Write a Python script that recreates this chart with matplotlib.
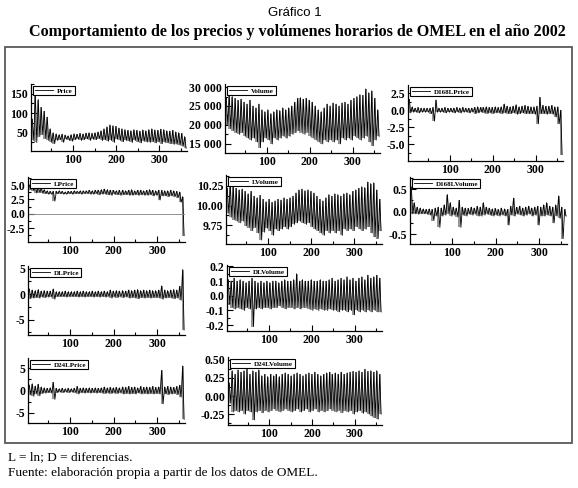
import numpy as np
import matplotlib
matplotlib.use('Agg')
import matplotlib.pyplot as plt
from matplotlib.ticker import AutoMinorLocator, FuncFormatter, MultipleLocator
from matplotlib.patches import Rectangle

plt.rcParams['axes.unicode_minus'] = False

# weekly highs / lows (x = day of 2002)
price_hi = [85, 155, 135, 115, 105, 90, 60, 50, 47, 45, 46, 44, 42, 45, 47, 46, 48, 47, 49, 50, 48, 50, 52, 55,
            60, 65, 70, 68, 66, 62, 60, 58, 56, 55, 58, 56, 54, 57, 55, 58, 60, 57, 56, 59, 58, 55, 54, 56, 52, 50, 48, 40]
price_lo = [30, 25, 40, 45, 35, 30, 25, 22, 30, 32, 25, 33, 30, 28, 32, 33, 30, 32, 34, 30, 33, 32, 35, 30,
            32, 28, 30, 25, 33, 30, 27, 30, 28, 25, 30, 27, 24, 28, 26, 25, 27, 24, 26, 22, 25, 24, 22, 20, 20, 18, 15, 10]

volume_hi = [27000, 28000, 27500, 27000, 26500, 26800, 26000, 25500, 26500, 25000, 24500, 25500, 24000, 23500,
             24000, 23000, 23500, 24000, 23800, 24500, 24000, 24500, 25000, 26000, 27000, 27200, 26800, 27000,
             26500, 26000, 25000, 24000, 23500, 24500, 25500, 25000, 25800, 25500, 25000, 25800, 26000, 25500,
             26500, 27000, 27500, 28000, 27800, 29500, 28500, 29000, 27000, 24000]
volume_lo = [20000, 19000, 18500, 18000, 17500, 18000, 17000, 16500, 16000, 16500, 15500, 14000, 15500, 16500,
             16000, 15000, 16500, 16000, 16500, 17000, 16500, 17000, 17500, 18000, 18500, 18000, 17500, 18000,
             17000, 16500, 16000, 15500, 15000, 16000, 15500, 16000, 15500, 16000, 15000, 16500, 16000, 16500,
             16000, 17000, 16500, 16000, 16500, 17000, 15500, 14500, 16000, 17000]

d168lprice_hi = [1.6, 0.5, 0.3, 0.4, 0.3, 0.3, 0.3, 0.3, 0.4, 1.5, 0.3, 0.3, 0.4, 0.3, 0.3, 0.3, 0.4, 0.3, 0.4, 0.3,
                 0.3, 0.3, 0.4, 0.5, 0.4, 0.4, 0.5, 0.4, 0.4, 0.5, 0.4, 0.5, 0.9, 0.6, 0.5, 0.6, 0.8, 0.5, 0.6, 0.7,
                 0.6, 0.5, 0.5, 0.6, 1.9, 0.7, 0.6, 0.6, 0.7, 0.5, 0.5, 0.0]
d168lprice_lo = [-0.4, -0.3, -0.3, -0.4, -0.3, -0.3, -0.3, -0.5, -1.6, -0.3, -0.3, -0.3, -0.4, -0.3, -0.3, -0.4,
                 -0.3, -0.4, -0.3, -0.3, -0.4, -0.3, -0.5, -0.4, -0.3, -0.4, -0.5, -0.4, -0.5, -0.4, -0.4, -0.5,
                 -0.4, -0.5, -0.5, -0.4, -0.6, -0.5, -0.4, -0.5, -0.5, -0.5, -0.6, -2.0, -0.5, -0.5, -0.6, -0.5,
                 -0.6, -1.0, -2.0, -6.5]

lprice_hi = [5.0, 5.2, 4.9, 4.7, 4.5, 4.2, 4.0, 3.9, 3.9, 3.9, 4.0, 3.9, 3.8, 3.9, 3.9, 4.0, 3.9, 4.0, 4.0, 4.0,
             4.1, 4.0, 4.1, 4.1, 4.2, 4.3, 4.2, 4.1, 4.1, 4.0, 4.1, 4.1, 4.0, 4.1, 4.2, 4.0, 4.1, 4.1, 4.0, 4.1,
             4.2, 4.1, 4.0, 4.1, 4.1, 4.0, 4.0, 4.1, 4.0, 3.9, 3.8, 3.0]
lprice_lo = [4.2, 4.0, 3.6, 3.7, 3.6, 3.5, 3.4, 3.4, 2.2, 3.5, 3.5, 3.4, 3.4, 3.5, 3.4, 3.5, 3.5, 3.4, 3.5, 3.5,
             3.4, 3.4, 3.5, 3.3, 3.4, 3.4, 3.3, 3.2, 3.4, 3.3, 3.2, 3.3, 3.3, 3.2, 3.2, 3.3, 3.2, 3.3, 3.2, 3.2,
             3.3, 3.1, 3.2, 2.4, 3.1, 3.1, 3.0, 3.1, 3.0, 2.8, 2.0, -3.8]

lvolume_hi = [10.22, 10.28, 10.25, 10.22, 10.2, 10.21, 10.18, 10.15, 10.18, 10.12, 10.1, 10.13, 10.08, 10.05,
              10.08, 10.04, 10.06, 10.08, 10.07, 10.1, 10.08, 10.1, 10.12, 10.16, 10.2, 10.21, 10.19, 10.2, 10.18,
              10.16, 10.12, 10.08, 10.06, 10.1, 10.14, 10.12, 10.15, 10.14, 10.12, 10.15, 10.16, 10.14, 10.18,
              10.2, 10.22, 10.24, 10.23, 10.3, 10.28, 10.29, 10.2, 10.08]
lvolume_lo = [9.9, 9.85, 9.82, 9.8, 9.78, 9.8, 9.74, 9.72, 9.68, 9.72, 9.65, 9.56, 9.66, 9.71, 9.68, 9.62, 9.7,
              9.68, 9.7, 9.73, 9.7, 9.73, 9.76, 9.78, 9.8, 9.78, 9.76, 9.78, 9.73, 9.7, 9.68, 9.65, 9.62, 9.68,
              9.65, 9.68, 9.65, 9.68, 9.62, 9.7, 9.68, 9.7, 9.68, 9.73, 9.7, 9.68, 9.7, 9.73, 9.65, 9.6, 9.58, 9.68]

d168lvolume_hi = [0.55, 0.2, 0.1, 0.08, 0.06, 0.05, 0.06, 0.05, 0.08, 0.1, 0.08, 0.15, 0.38, 0.2, 0.1, 0.08,
                  0.25, 0.1, 0.08, 0.07, 0.1, 0.08, 0.12, 0.1, 0.2, 0.1, 0.08, 0.06, 0.07, 0.05, 0.08, 0.06, 0.05,
                  0.12, 0.3, 0.1, 0.12, 0.08, 0.1, 0.12, 0.08, 0.1, 0.12, 0.1, 0.15, 0.2, 0.12, 0.1, 0.15, 0.35,
                  0.1, 0.05]
d168lvolume_lo = [-0.05, -0.05, -0.06, -0.05, -0.05, -0.06, -0.08, -0.2, -0.1, -0.35, -0.1, -0.08, -0.05, -0.1,
                  -0.08, -0.12, -0.35, -0.08, -0.1, -0.06, -0.08, -0.06, -0.1, -0.1, -0.08, -0.06, -0.08, -0.1,
                  -0.08, -0.1, -0.08, -0.1, -0.3, -0.08, -0.1, -0.06, -0.08, -0.1, -0.08, -0.06, -0.1, -0.08,
                  -0.3, -0.1, -0.1, -0.08, -0.1, -0.25, -0.1, -0.15, -0.6, -0.1]

dlprice_hi = [1.0, 0.8, 0.7, 0.9, 0.6, 0.7, 0.6, 0.6, 1.0, 0.5, 0.5, 0.5, 0.6, 0.5, 0.5, 0.5, 0.6, 0.5, 0.6, 0.5,
              0.5, 0.6, 0.5, 0.6, 0.5, 0.6, 0.5, 0.8, 0.6, 0.7, 0.6, 0.7, 0.6, 0.8, 0.7, 0.8, 0.9, 0.7, 0.8, 0.7,
              0.8, 0.7, 0.7, 0.8, 1.6, 0.8, 0.7, 0.8, 0.9, 0.8, 1.5, 4.8]
dlprice_lo = [-0.9, -0.8, -0.7, -0.8, -0.6, -0.7, -0.6, -0.6, -1.0, -0.5, -0.5, -0.5, -0.6, -0.5, -0.5, -0.5,
              -0.6, -0.5, -0.6, -0.5, -0.5, -0.6, -0.5, -0.6, -0.5, -0.6, -0.5, -0.8, -0.6, -0.7, -0.6, -0.7,
              -0.6, -0.8, -0.7, -0.8, -0.9, -0.7, -0.8, -0.7, -0.8, -0.7, -0.7, -0.8, -1.0, -0.8, -0.7, -0.8,
              -0.9, -0.8, -1.2, -7.0]

dlvolume_hi = [0.11, 0.1, 0.12, 0.1, 0.11, 0.1, 0.09, 0.1, 0.12, 0.1, 0.09, 0.1, 0.09, 0.1, 0.09, 0.1, 0.1, 0.09,
               0.1, 0.11, 0.1, 0.1, 0.11, 0.15, 0.1, 0.11, 0.1, 0.1, 0.11, 0.1, 0.1, 0.11, 0.1, 0.1, 0.11, 0.12,
               0.1, 0.11, 0.12, 0.11, 0.13, 0.11, 0.12, 0.1, 0.12, 0.13, 0.11, 0.14, 0.12, 0.13, 0.14, 0.12]
dlvolume_lo = [-0.06, -0.08, -0.09, -0.08, -0.09, -0.1, -0.08, -0.09, -0.21, -0.09, -0.08, -0.09, -0.08, -0.08,
               -0.09, -0.08, -0.08, -0.07, -0.08, -0.09, -0.08, -0.08, -0.09, -0.08, -0.09, -0.08, -0.08, -0.09,
               -0.1, -0.09, -0.1, -0.09, -0.1, -0.1, -0.09, -0.1, -0.1, -0.11, -0.1, -0.1, -0.11, -0.1, -0.13,
               -0.1, -0.11, -0.1, -0.11, -0.1, -0.11, -0.1, -0.11, -0.11]

d24lprice_hi = [1.2, 1.5, 1.0, 1.4, 0.8, 0.6, 0.5, 0.6, 1.8, 0.5, 0.4, 0.5, 0.4, 0.5, 0.4, 0.5, 0.9, 0.5, 0.6, 0.5,
                0.6, 0.5, 0.6, 0.5, 0.6, 0.8, 0.6, 0.7, 0.6, 0.7, 0.6, 0.8, 0.7, 0.9, 0.7, 0.8, 0.6, 0.9, 0.7, 0.8,
                0.7, 0.9, 0.7, 0.8, 4.5, 0.8, 0.9, 0.8, 0.7, 0.9, 1.2, 5.5]
d24lprice_lo = [-1.0, -1.3, -0.8, -1.2, -0.7, -0.6, -0.5, -0.6, -2.0, -0.5, -0.4, -0.5, -0.4, -0.5, -0.4, -0.5,
                -0.8, -0.5, -0.6, -0.5, -0.6, -0.5, -0.6, -0.5, -0.6, -0.7, -0.6, -0.7, -0.6, -0.7, -0.6, -0.8,
                -0.7, -0.8, -0.7, -0.8, -0.6, -0.8, -0.7, -0.8, -0.7, -0.8, -0.7, -0.8, -3.0, -0.8, -0.9, -0.8,
                -0.7, -0.9, -1.5, -6.5]

d24lvolume_hi = [0.18, 0.35, 0.3, 0.36, 0.33, 0.35, 0.37, 0.3, 0.35, 0.33, 0.36, 0.28, 0.3, 0.27, 0.3, 0.28, 0.3,
                 0.27, 0.3, 0.32, 0.3, 0.28, 0.3, 0.32, 0.3, 0.28, 0.3, 0.32, 0.3, 0.33, 0.3, 0.28, 0.3, 0.32, 0.33,
                 0.3, 0.32, 0.3, 0.33, 0.3, 0.32, 0.33, 0.34, 0.33, 0.35, 0.33, 0.37, 0.34, 0.35, 0.33, 0.35, 0.3]
d24lvolume_lo = [-0.1, -0.22, -0.2, -0.22, -0.2, -0.25, -0.2, -0.22, -0.33, -0.22, -0.2, -0.23, -0.2, -0.22, -0.2,
                 -0.18, -0.2, -0.22, -0.2, -0.18, -0.2, -0.22, -0.2, -0.18, -0.22, -0.2, -0.18, -0.22, -0.2, -0.18,
                 -0.22, -0.2, -0.22, -0.2, -0.18, -0.2, -0.22, -0.2, -0.23, -0.2, -0.22, -0.2, -0.25, -0.22, -0.2,
                 -0.24, -0.22, -0.25, -0.28, -0.3, -0.32, -0.25]

W, H = 578, 488
fig = plt.figure(figsize=(W / 100, H / 100), dpi=100)

SERIF = 'Liberation Serif'

# frame around the panels
fig.patches.append(Rectangle((5 / W, 1 - 443 / H), 567 / W, 396 / H, transform=fig.transFigure,
                             fill=False, edgecolor='0.35', lw=1.3))

fig.text(295 / W, 1 - 13 / H, 'Gráfico 1', ha='center', va='center', family='Liberation Sans', fontsize=9.5)
fig.text(297 / W, 1 - 32 / H, 'Comportamiento de los precios y volúmenes horarios de OMEL en el año 2002',
         ha='center', va='center', family=SERIF, fontweight='bold', fontsize=11.6)
fig.text(8 / W, 1 - 457 / H, 'L = ln; D = diferencias.', ha='left', va='center', family=SERIF, fontsize=9.5)
fig.text(8 / W, 1 - 473 / H, 'Fuente: elaboración propia a partir de los datos de OMEL.', ha='left',
         va='center', family=SERIF, fontsize=9.5)


def panel(box, label, hi, lo, ylim, ystep, fmt=None, zero_line=False):
    l, r, t, b = box
    ax = fig.add_axes([l / W, 1 - b / H, (r - l) / W, (b - t) / H])
    n = len(hi)
    x = np.linspace(6, 362, 2 * n)
    y = np.empty(2 * n)
    y[0::2] = hi
    y[1::2] = lo
    ax.vlines(x[0::2], lo, hi, color='0.55', lw=1.3)
    ax.plot(x, y, color='black', lw=0.6, label=label)
    if zero_line:
        ax.axhline(0, color='0.5', lw=0.6)
    ax.set_xlim(3, 364)
    ax.set_ylim(*ylim)
    ax.xaxis.set_major_locator(MultipleLocator(100))
    ax.xaxis.set_minor_locator(MultipleLocator(50))
    ax.yaxis.set_major_locator(MultipleLocator(ystep))
    ax.yaxis.set_minor_locator(AutoMinorLocator(2))
    if fmt:
        ax.yaxis.set_major_formatter(FuncFormatter(fmt))
    for s in ('top', 'right'):
        ax.spines[s].set_visible(False)
    for s in ('left', 'bottom'):
        ax.spines[s].set_linewidth(0.9)
    ax.tick_params(which='both', direction='in', top=False, right=False, pad=2, width=0.8)
    ax.tick_params(which='major', length=4, labelsize=8.5)
    ax.tick_params(which='minor', length=2.5)
    for lab in ax.get_xticklabels() + ax.get_yticklabels():
        lab.set_family(SERIF)
        lab.set_fontweight('bold')
    leg = ax.legend(loc='upper left', fancybox=False, framealpha=1, edgecolor='black', handlelength=2.6,
                    borderpad=0.25, borderaxespad=0.3, handletextpad=0.6,
                    prop={'family': SERIF, 'weight': 'bold', 'size': 5})
    leg.get_frame().set_linewidth(0.8)
    return ax


panel((31, 187, 84, 151), 'Price', price_hi, price_lo, (3, 175), 50)
panel((225, 380, 84, 153), 'Volume', volume_hi, volume_lo, (12600, 30800), 5000,
      fmt=lambda v, p: f'{int(v):,}'.replace(',', ' '))
panel((408, 563, 85, 161), 'D168LPrice', d168lprice_hi, d168lprice_lo, (-7.45, 3.7), 2.5,
      fmt=lambda v, p: f'{v:.1f}')
panel((28, 185, 177, 242), 'LPrice', lprice_hi, lprice_lo, (-4.9, 6.4), 2.5,
      fmt=lambda v, p: f'{v:.1f}', zero_line=True)
panel((226, 382, 175, 244), 'LVolume', lvolume_hi, lvolume_lo, (9.51, 10.39), 0.25,
      fmt=lambda v, p: f'{v:.2f}')
panel((410, 567, 177, 244), 'D168LVolume', d168lvolume_hi, d168lvolume_lo, (-0.72, 0.77), 0.5,
      fmt=lambda v, p: f'{v:.1f}')
panel((28, 185, 266, 335), 'DLPrice', dlprice_hi, dlprice_lo, (-8, 5.5), 5)
panel((227, 382, 265, 331), 'DLVolume', dlvolume_hi, dlvolume_lo, (-0.24, 0.21), 0.1,
      fmt=lambda v, p: f'{v:.1f}')
panel((28, 185, 358, 423), 'D24LPrice', d24lprice_hi, d24lprice_lo, (-7.3, 7.3), 5)
panel((228, 382, 357, 425), 'D24LVolume', d24lvolume_hi, d24lvolume_lo, (-0.40, 0.54), 0.25,
      fmt=lambda v, p: f'{v:.2f}')

fig.savefig('out.png', dpi=100)
